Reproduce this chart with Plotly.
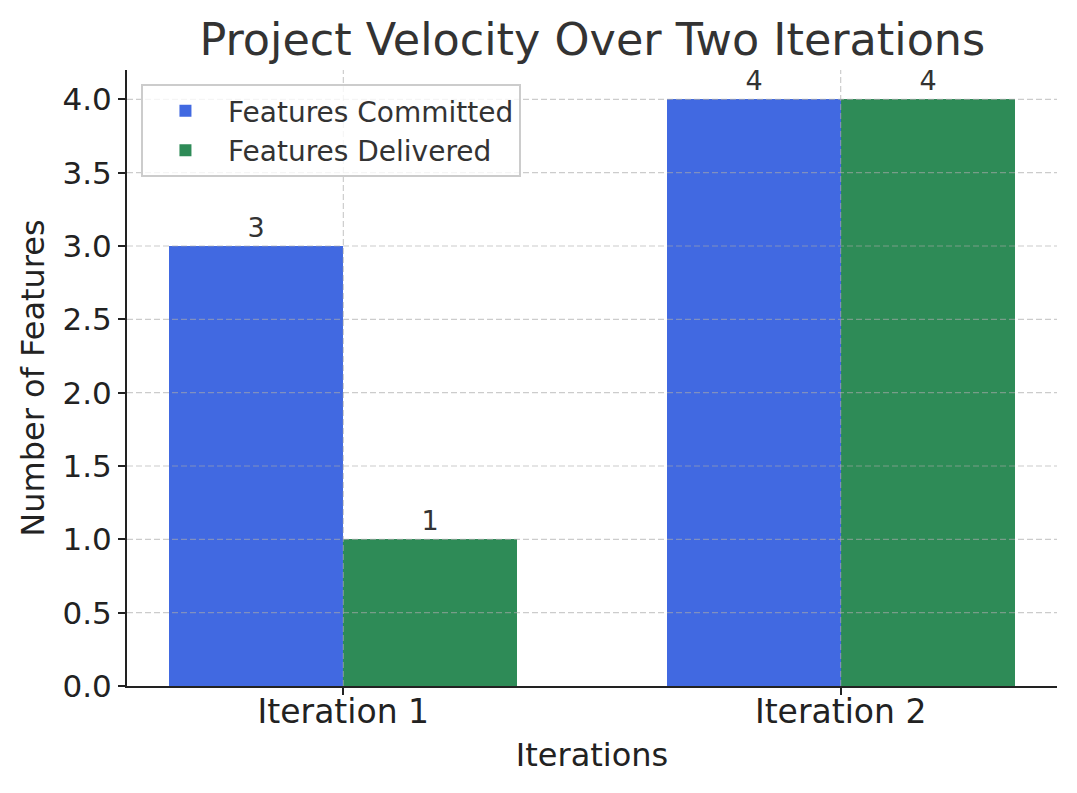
import plotly.graph_objects as go

categories = ["Iteration 1", "Iteration 2"]
committed = [3, 4]
delivered = [1, 4]
series_names = ["Features Committed", "Features Delivered"]
y_ticks = [0.0, 0.5, 1.0, 1.5, 2.0, 2.5, 3.0, 3.5, 4.0]

bar_w = 0.35
idx = list(range(len(categories)))

fig = go.Figure()
fig.add_trace(go.Bar(
    x=[i - bar_w / 2 for i in idx], y=committed, width=bar_w,
    name=series_names[0], marker=dict(color="#4169E1", line=dict(width=0)),
    text=[str(v) for v in committed], textposition="outside",
    textfont=dict(size=27, color="#333333"), cliponaxis=False,
))
fig.add_trace(go.Bar(
    x=[i + bar_w / 2 for i in idx], y=delivered, width=bar_w,
    name=series_names[1], marker=dict(color="#2E8B57", line=dict(width=0)),
    text=[str(v) for v in delivered], textposition="outside",
    textfont=dict(size=27, color="#333333"), cliponaxis=False,
))

# dashed grid drawn above the bars (as in the reference)
grid_style = dict(color="rgba(170,170,170,0.6)", width=1.2, dash="6px,3px")
for v in y_ticks[1:]:
    fig.add_shape(type="line", xref="x domain", yref="y", x0=0, x1=1, y0=v, y1=v,
                  line=grid_style, layer="above")
for i in idx:
    fig.add_shape(type="line", xref="x", yref="y domain", x0=i, x1=i, y0=0, y1=1,
                  line=grid_style, layer="above")

font_family = "DejaVu Sans, sans-serif"
fig.update_layout(
    width=1077, height=793,
    margin=dict(l=127, r=20, t=70, b=107),
    paper_bgcolor="white", plot_bgcolor="white",
    font=dict(family=font_family, color="#222222"),
    title=dict(text="Project Velocity Over Two Iterations", x=0.55, xanchor="center",
               y=0.95, yanchor="middle", font=dict(size=44.5, color="#333333")),
    showlegend=True,
    legend=dict(x=0.015, y=0.977, xanchor="left", yanchor="top",
                bgcolor="rgba(255,255,255,0.8)", bordercolor="#cccccc", borderwidth=2,
                font=dict(size=28, color="#333333"), itemwidth=75, tracegroupgap=0),
    bargap=0, barmode="overlay",
)
fig.update_xaxes(
    range=[-0.435, 1.435], tickmode="array", tickvals=idx, ticktext=categories,
    showline=True, linecolor="#222222", linewidth=2, mirror=False,
    ticks="outside", ticklen=7, tickwidth=2, tickcolor="#222222",
    tickfont=dict(size=33, color="#222222"), ticklabelstandoff=-12,
    showgrid=False,
    title=dict(text="Iterations", font=dict(size=32, color="#222222"), standoff=14),
    zeroline=False, layer="above traces",
)
fig.update_yaxes(
    range=[0, 4.2], tickmode="array", tickvals=y_ticks, ticktext=[f"{v:.1f}" for v in y_ticks],
    showline=True, linecolor="#222222", linewidth=2, mirror=False,
    ticks="outside", ticklen=7, tickwidth=2, tickcolor="#222222",
    tickfont=dict(size=31, color="#222222"),
    showgrid=False,
    title=dict(text="Number of Features", font=dict(size=32, color="#222222"), standoff=8),
    zeroline=False, layer="above traces",
)

fig.write_html("out.html")
